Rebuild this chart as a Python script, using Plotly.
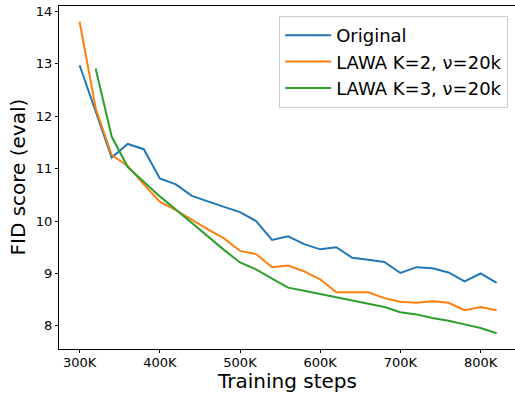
import plotly.graph_objects as go

steps = [300, 320, 340, 360, 380, 400, 420, 440, 460, 480, 500, 520, 540, 560,
         580, 600, 620, 640, 660, 680, 700, 720, 740, 760, 780, 800, 820]
original = [12.97, 12.09, 11.21, 11.47, 11.37, 10.81, 10.70, 10.48, 10.37, 10.27,
            10.17, 10.00, 9.64, 9.71, 9.56, 9.46, 9.50, 9.30, 9.26, 9.22, 9.01,
            9.12, 9.10, 9.02, 8.85, 9.00, 8.82]
lawa_k2 = [13.80, 12.15, 11.26, 11.05, 10.70, 10.37, 10.21, 10.02, 9.84, 9.67,
           9.43, 9.37, 9.12, 9.15, 9.04, 8.89, 8.64, 8.64, 8.64, 8.53, 8.46,
           8.44, 8.47, 8.44, 8.30, 8.36, 8.30]
steps_k3 = steps[1:]
lawa_k3 = [12.91, 11.61, 11.03, 10.75, 10.47, 10.22, 9.96, 9.70, 9.45, 9.21,
           9.08, 8.90, 8.73, 8.67, 8.61, 8.54, 8.48, 8.42, 8.36, 8.26, 8.22,
           8.15, 8.10, 8.03, 7.96, 7.86]

x_tickvals = [300, 400, 500, 600, 700, 800]
x_ticktext = ["300K", "400K", "500K", "600K", "700K", "800K"]
y_tickvals = [8, 9, 10, 11, 12, 13, 14]

names = ["Original", "LAWA K=2, ν=20k", "LAWA K=3, ν=20k"]
colors = ["#1f77b4", "#ff7f0e", "#2ca02c"]

fig = go.Figure()
for xs, ys, n, c in [(steps, original, names[0], colors[0]),
                     (steps, lawa_k2, names[1], colors[1]),
                     (steps_k3, lawa_k3, names[2], colors[2])]:
    fig.add_trace(go.Scatter(x=xs, y=ys, mode="lines", name=n,
                             line=dict(color=c, width=2)))

font = "DejaVu Sans"
fig.update_layout(
    width=515, height=394,
    margin=dict(l=59, r=0, t=6, b=45),
    plot_bgcolor="white", paper_bgcolor="white",
    font=dict(family=font, color="black"),
    showlegend=True,
    legend=dict(x=0.985, y=0.971, xanchor="right", yanchor="top",
                bgcolor="rgba(255,255,255,0.8)", bordercolor="#cccccc",
                borderwidth=1, font=dict(size=18, family=font),
                itemwidth=46, tracegroupgap=0),
    xaxis=dict(range=[274.3, 842.9], tickvals=x_tickvals, ticktext=x_ticktext,
               showgrid=False, zeroline=False,
               showline=True, linecolor="black", linewidth=1, mirror=True,
               ticks="outside", ticklen=3, tickcolor="black",
               ticklabelstandoff=-2,
               tickfont=dict(size=13, family=font)),
    yaxis=dict(range=[7.56, 14.10], tickvals=y_tickvals,
               showgrid=False, zeroline=False,
               showline=True, linecolor="black", linewidth=1, mirror=True,
               ticks="outside", ticklen=3, tickcolor="black",
               tickfont=dict(size=13, family=font)),
    annotations=[
        dict(text="Training steps", xref="paper", yref="paper",
             x=0.5, y=-0.1312, xanchor="center", yanchor="bottom", borderpad=0,
             showarrow=False, font=dict(size=20, family=font)),
        dict(text="FID score (eval)", xref="paper", yref="paper",
             x=-0.0921, y=0.5, xanchor="center", yanchor="middle", borderpad=0,
             textangle=-90, showarrow=False, font=dict(size=20, family=font)),
    ],
)
fig.write_html("out.html")
